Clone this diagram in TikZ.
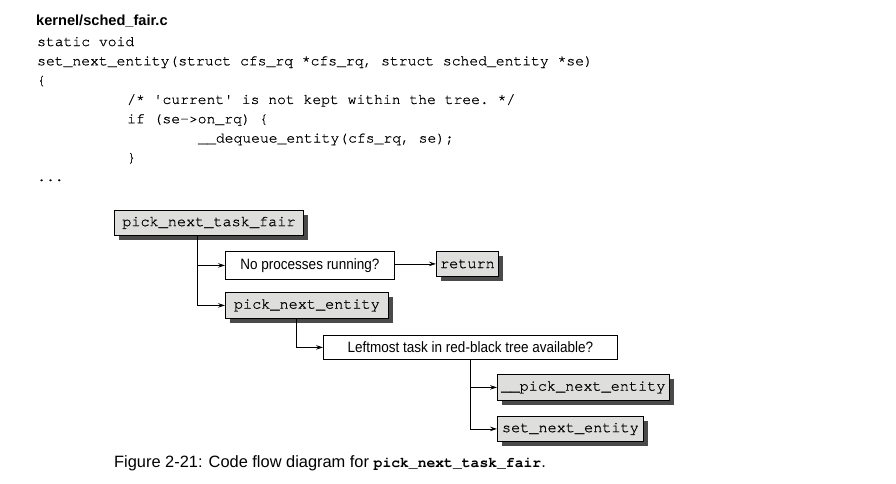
\documentclass[tikz,border=0pt]{standalone}
\usepackage{fontspec}
\setmainfont{Liberation Sans}
\setmonofont{texgyrecursor}[Extension=.otf, UprightFont=*-regular, BoldFont=*-bold, ItalicFont=*-italic, BoldItalicFont=*-bolditalic, UprightFeatures={FakeBold=0.7}]
\newfontfamily\condfont[FakeStretch=0.9]{Liberation Sans}
\usetikzlibrary{arrows.meta,shadows}
\definecolor{boxgray}{HTML}{DEDFDC}
\definecolor{shadowgray}{HTML}{4A4A4A}
\newcommand{\codefont}{\ttfamily\fontsize{14.7}{17}\selectfont}
\newcommand{\boxmono}{\ttfamily\fontsize{15.2}{17}\selectfont}
\newcommand{\qfont}{\condfont\fontsize{15}{17}\selectfont}
\tikzset{
  codeline/.style={anchor=base west, inner sep=0pt, font=\codefont},
  fnbox/.style={draw=black, line width=0.8pt, fill=boxgray, font=\boxmono,
    inner xsep=3pt, inner ysep=0pt, anchor=north west,
    drop shadow={shadow xshift=5pt, shadow yshift=-5pt, fill=shadowgray, opacity=1}},
  qbox/.style={draw=black, line width=0.8pt, fill=white, font=\qfont,
    inner xsep=3pt, inner ysep=0pt, anchor=north west},
  arr/.style={line width=0.8pt, -{Stealth[length=7pt,width=4.5pt,inset=2.5pt]}},
}
\begin{document}
\begin{tikzpicture}[x=1pt,y=-1pt]
\useasboundingbox[fill=white] (0,0) rectangle (896,483);
% header and code
\node[anchor=base west, inner sep=0pt, font=\bfseries\fontsize{14.6}{17}\selectfont] (hdr) at (36,25) {kernel/sched\_fair.c};
\node[codeline] (c1) at (37,46) {static void};
\node[codeline] (c2) at (37,65.3) {set\_next\_entity(struct cfs\_rq *cfs\_rq, struct sched\_entity *se)};
\node[codeline] (c3) at (37,84.6) {\{};
\node[codeline] (c4) at (127,103.9) {/* 'current' is not kept within the tree. */};
\node[codeline] (c5) at (127,123.2) {if (se->on\_rq) \{};
\node[codeline] (c6) at (198,142.5) {\_\_dequeue\_entity(cfs\_rq, se);};
\node[codeline] (c7) at (127,161.8) {\}};
\node[codeline] (c8) at (37,181) {...};
% diagram boxes
\node[fnbox, minimum width=189pt, minimum height=25pt] (pntf) at (114,210) {pick\_next\_task\_fair};
\node[qbox, minimum width=169pt, minimum height=28pt] (noproc) at (225,251) {No processes running?};
\node[fnbox, minimum width=62pt, minimum height=25pt] (ret) at (436,251) {return};
\node[fnbox, minimum width=163pt, minimum height=26pt] (pne) at (225,292) {pick\_next\_entity};
\node[qbox, minimum width=294pt, minimum height=24pt] (left) at (323,335) {Leftmost task in red-black tree available?};
\node[fnbox, minimum width=172pt, minimum height=26pt] (ppne) at (497,374) {\_\_pick\_next\_entity};
\node[fnbox, minimum width=146pt, minimum height=25pt] (sne) at (497,416) {set\_next\_entity};
% connectors
\coordinate (v1) at ([xshift=83pt]pntf.south west);
\draw[arr] (v1) |- (noproc.west);
\draw[arr] (v1) |- (pne.west);
\draw[arr] (noproc.east |- ret.west) -- (ret.west);
\coordinate (v2) at ([xshift=71pt]pne.south west);
\draw[arr] (v2) |- (left.west);
\draw[arr] (left.south) |- (ppne.west);
\draw[arr] (left.south) |- (sne.west);
% caption
\node[anchor=base west, inner sep=0pt, font=\fontsize{16.4}{19}\selectfont] (cap) at (114,467)
  {Figure 2-21: Code flow diagram for {\bfseries\ttfamily\fontsize{14.7}{17}\selectfont pick\_next\_task\_fair}.};
\end{tikzpicture}
\end{document}
